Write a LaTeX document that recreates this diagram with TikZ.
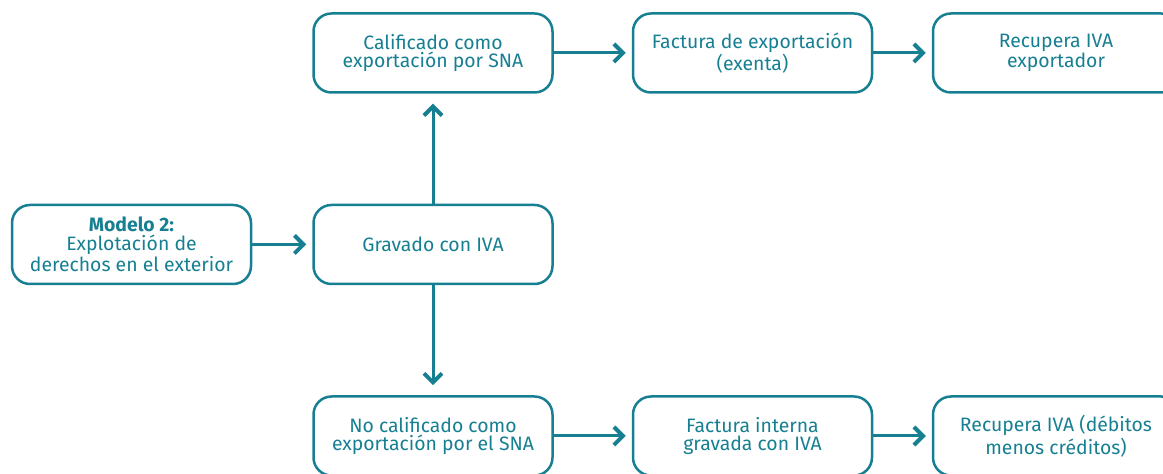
\documentclass[tikz,border=0pt]{standalone}
\usepackage{fontspec}
\setmainfont{Fira Sans}
\usepackage{xcolor}
\usepackage{tikz}
\usetikzlibrary{arrows.meta}
\usetikzlibrary{positioning}
\definecolor{teal}{HTML}{177F92}
\tikzset{
  flowbox/.style={%
    draw=teal,
    line width=1.25pt,
    rounded corners=9pt,
    minimum width=119.5pt,
    minimum height=39.5pt,
    align=center,
    text=teal,
    font=\fontsize{9.7}{9.2}\selectfont,
    inner sep=0,
  },
  flowarrow/.style={%
    draw=teal,
    line width=1.5pt,
    -{Straight Barb[length=4.5pt,width=9pt,line width=2pt]},
  }
}
\begin{document}
\begin{tikzpicture}[x=0.5pt,y=-0.5pt]
    \useasboundingbox (0,0) rectangle (1163,474);
    \node (modelo) [flowbox] at (131.5,244.5) {\textbf{Modelo 2:}\\Explotación de\\derechos en el exterior};
    \node (gravado) [flowbox] at (433,244.5) {Gravado con IVA};
    \node (calif) [flowbox] at (433,53) {Calificado como\\exportación por SNA};
    \node (factexp) [flowbox] at (752.5,53) {Factura de exportación\\(exenta)};
    \node (recexp) [flowbox,minimum width=123pt] at (1056,53) {Recupera IVA\\exportador};
    \node (nocalif) [flowbox] at (433,436) {No calificado como\\exportación por el SNA};
    \node (factint) [flowbox] at (752.5,436) {Factura interna\\gravada con IVA};
    \node (recdeb) [flowbox,minimum width=123pt] at (1056,436) {Recupera IVA (débitos\\menos créditos)};
    \draw [flowarrow,shorten >=3pt] (modelo) -- (gravado);
    \draw [flowarrow,shorten >=5pt] (gravado) -- (calif);
    \draw [flowarrow,shorten >=5pt] (gravado) -- (nocalif);
    \draw [flowarrow,shorten >=3pt] (calif) -- (factexp);
    \draw [flowarrow,shorten >=3pt] (factexp) -- (recexp);
    \draw [flowarrow,shorten >=3pt] (nocalif) -- (factint);
    \draw [flowarrow,shorten >=3pt] (factint) -- (recdeb);
\end{tikzpicture}
\end{document}
